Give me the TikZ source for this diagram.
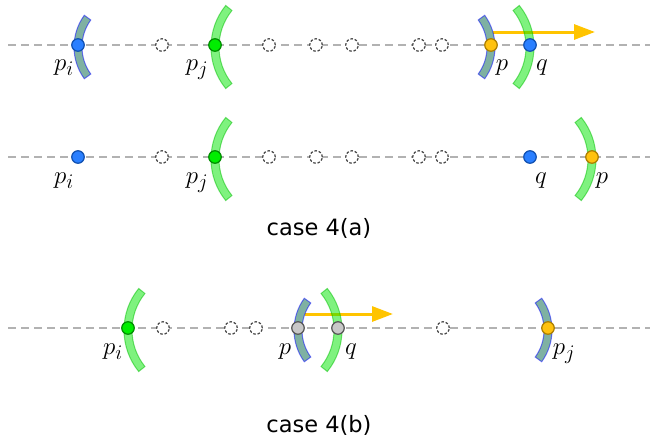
\documentclass[tikz,border=0pt]{standalone}
\usepackage{fontspec}
\newfontfamily\dejavu{DejaVu Sans}
\usetikzlibrary{arrows.meta}
\definecolor{axisgray}{RGB}{178,178,178}
\definecolor{ghostgray}{RGB}{70,70,70}
\definecolor{bluefill}{RGB}{42,127,255}
\definecolor{blueline}{RGB}{16,80,176}
\definecolor{greenfill}{RGB}{0,238,0}
\definecolor{greenline}{RGB}{0,140,0}
\definecolor{yelfill}{RGB}{255,194,14}
\definecolor{yelline}{RGB}{170,125,0}
\definecolor{grayfill}{RGB}{200,200,200}
\definecolor{grayline}{RGB}{85,85,85}
\definecolor{arrowyel}{RGB}{255,196,0}
\definecolor{gbandfill}{RGB}{0,230,0}
\definecolor{gbandline}{RGB}{0,190,0}
\definecolor{bbandfill}{RGB}{0,100,70}
\definecolor{bbandline}{RGB}{0,0,255}
% #1 x, #2 y, #3 R, #4 half angle, #5 style, #6 = +1 for "(" , -1 for ")"
\newcommand\myband[6]{%
  \pgfmathsetmacro\bcx{#1+#6*#3}%
  \pgfmathsetmacro\bcy{#2+2}%
  \pgfmathsetmacro\bro{#3+4}%
  \pgfmathsetmacro\bri{#3-4}%
  \pgfmathsetmacro\baa{90+#6*90-#4}%
  \pgfmathsetmacro\bab{90+#6*90+#4}%
  \path[#5] ([shift={(\bcx,\bcy)}]\baa:\bro) arc[start angle=\baa,end angle=\bab,radius=\bro]
    -- ([shift={(\bcx,\bcy)}]\bab:\bri) arc[start angle=\bab,end angle=\baa,radius=\bri] -- cycle;}
\tikzset{
  axisline/.style={draw=axisgray, line width=2pt, dash pattern=on 8pt off 5pt},
  ghost/.style={circle, draw=ghostgray, fill=white, minimum size=12.5pt, inner sep=0pt,
                line width=1.2pt, dash pattern=on 2.6pt off 1.8pt},
  dotbase/.style={circle, minimum size=12.5pt, inner sep=0pt, line width=1.2pt},
  dotblue/.style={dotbase, fill=bluefill, draw=blueline},
  dotgreen/.style={dotbase, fill=greenfill, draw=greenline},
  dotyel/.style={dotbase, fill=yelfill, draw=yelline},
  dotgray/.style={dotbase, fill=grayfill, draw=grayline},
  gband/.style={fill=gbandfill, draw=gbandline, fill opacity=0.5, draw opacity=0.5, line width=1pt},
  bband/.style={fill=bbandfill, draw=bbandline, fill opacity=0.5, draw opacity=0.5, line width=1pt},
  lbl/.style={anchor=base, inner sep=0pt, font=\fontsize{29}{32}\selectfont},
  casetxt/.style={inner sep=0pt, font=\dejavu\fontsize{22.5}{26}\selectfont},
  movearrow/.style={draw=arrowyel, line width=3pt, -{Triangle[length=21pt,width=15pt]}},
}
\begin{document}
\begin{tikzpicture}[x=1pt,y=-1pt]
\useasboundingbox (0,0) rectangle (653,442);
% axes
\coordinate (ax1l) at (8,45);  \coordinate (ax1r) at (650,45);
\coordinate (ax2l) at (8,157); \coordinate (ax2r) at (650,157);
\coordinate (ax3l) at (8,328); \coordinate (ax3r) at (650,328);
\draw[axisline] (ax1l) -- (ax1r);
\draw[axisline] (ax2l) -- (ax2r);
\draw[axisline] (ax3l) -- (ax3r);
% arrows
\coordinate (ar1s) at (493,32); \coordinate (ar1e) at (595,32);
\coordinate (ar3s) at (305,314); \coordinate (ar3e) at (393,314);
\draw[movearrow] (ar1s) -- (ar1e);
\draw[movearrow] (ar3s) -- (ar3e);
% bands row 1
\myband{78}{45}{50}{36}{bband}{1}
\myband{215}{45}{62}{39}{gband}{1}
\myband{491}{45}{50}{36}{bband}{-1}
\myband{530}{45}{62}{39}{gband}{-1}
% bands row 2
\myband{215}{157}{62}{39}{gband}{1}
\myband{592}{157}{62}{39}{gband}{-1}
% bands row 3
\myband{128}{328}{62}{39}{gband}{1}
\myband{298}{328}{50}{36}{bband}{1}
\myband{338}{328}{62}{39}{gband}{-1}
\myband{548}{328}{50}{36}{bband}{-1}
% row 1
\node[dotblue]  (a1pi) at (78,45) {};
\node[ghost]    (a1g1) at (162,45) {};
\node[dotgreen] (a1pj) at (215,45) {};
\node[ghost]    (a1g2) at (269,45) {};
\node[ghost]    (a1g3) at (316,45) {};
\node[ghost]    (a1g4) at (352,45) {};
\node[ghost]    (a1g5) at (419,45) {};
\node[ghost]    (a1g6) at (442,45) {};
\node[dotyel]   (a1p)  at (491,45) {};
\node[dotblue]  (a1q)  at (530,45) {};
\node[lbl] (l1pi) at (64,70) {$p_i$};
\node[lbl] (l1pj) at (197,70) {$p_j$};
\node[lbl] (l1p)  at (502,70) {$p$};
\node[lbl] (l1q)  at (542,70) {$q$};
% row 2
\node[dotblue]  (a2pi) at (78,157) {};
\node[ghost]    (a2g1) at (162,157) {};
\node[dotgreen] (a2pj) at (215,157) {};
\node[ghost]    (a2g2) at (269,157) {};
\node[ghost]    (a2g3) at (316,157) {};
\node[ghost]    (a2g4) at (352,157) {};
\node[ghost]    (a2g5) at (419,157) {};
\node[ghost]    (a2g6) at (442,157) {};
\node[dotblue]  (a2q)  at (530,157) {};
\node[dotyel]   (a2p)  at (592,157) {};
\node[lbl] (l2pi) at (64,183) {$p_i$};
\node[lbl] (l2pj) at (197,183) {$p_j$};
\node[lbl] (l2q)  at (541,183) {$q$};
\node[lbl] (l2p)  at (602,183) {$p$};
\node[casetxt] (capa) at (319,228) {case 4(a)};
% row 3
\node[dotgreen] (b3pi) at (128,328) {};
\node[ghost]    (b3g1) at (163,328) {};
\node[ghost]    (b3g2) at (231,328) {};
\node[ghost]    (b3g3) at (256,328) {};
\node[dotgray]  (b3p)  at (298,328) {};
\node[dotgray]  (b3q)  at (338,328) {};
\node[ghost]    (b3g4) at (443,328) {};
\node[dotyel]   (b3pj) at (548,328) {};
\node[lbl] (l3pi) at (113,354) {$p_i$};
\node[lbl] (l3p)  at (285,354) {$p$};
\node[lbl] (l3q)  at (351,354) {$q$};
\node[lbl] (l3pj) at (564,354) {$p_j$};
\node[casetxt] (capb) at (319,425) {case 4(b)};
\end{tikzpicture}
\end{document}
